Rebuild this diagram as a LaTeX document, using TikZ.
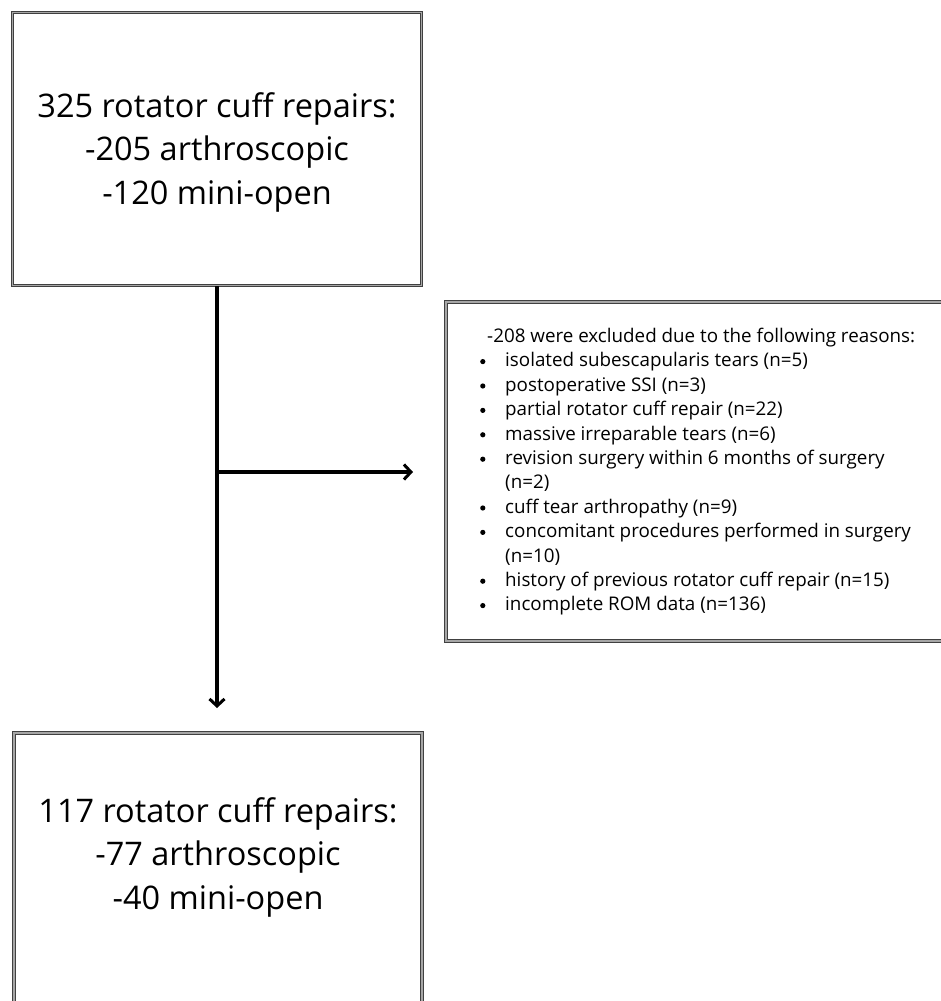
\documentclass[tikz,border=0pt]{standalone}
\usepackage{fontspec}
\setmainfont{Open Sans}[Ligatures=NoCommon]
\usetikzlibrary{arrows.meta}
\newcommand{\blt}{\makebox[28pt][l]{\hspace*{3pt}\raisebox{2.8pt}{\tikz\fill[black] (0pt,0pt) circle[radius=2.6pt];}}}
\begin{document}
\begin{tikzpicture}[x=1pt,y=-1pt,
  dbox/.style={draw=black!75, double=black!35, line width=1.1pt, double distance=1.2pt, rectangle, inner sep=0pt},
  bigtext/.style={font=\fontsize{32.5}{43.5}\selectfont, align=center},
  smalltext/.style={font=\fontsize{18.8}{24.4}\selectfont, align=left, inner sep=0pt},
  conn/.style={line width=3.5pt, -{Straight Barb[length=7pt,width=15pt,line width=3pt]}}
]
\clip (0,0) rectangle (941,1001);
\fill[white] (0,0) rectangle (941,1001);
% top box
\node[dbox, minimum width=409pt, minimum height=273pt] (top) at (217,149) {};
\node[bigtext] (toptext) at (217,152) {325 rotator cuff repairs:\\-205 arthroscopic\\-120 mini-open};
% exclusion box
\node[dbox, minimum width=520pt, minimum height=339pt] (excl) at (706,471.5) {};
\node[smalltext, anchor=north west] (excltext) at (477,328) {%
\hspace*{10pt}-208 were excluded due to the following reasons:\\
\blt isolated subescapularis tears (n=5)\\
\blt postoperative SSI (n=3)\\
\blt partial rotator cuff repair (n=22)\\
\blt massive irreparable tears (n=6)\\
\blt revision surgery within 6 months of surgery\\
\makebox[28pt][l]{}(n=2)\\
\blt cuff tear arthropathy (n=9)\\
\blt concomitant procedures performed in surgery\\
\makebox[28pt][l]{}(n=10)\\
\blt history of previous rotator cuff repair (n=15)\\
\blt incomplete ROM data (n=136)};
% bottom box
\node[dbox, minimum width=408pt, minimum height=300pt] (bot) at (218,883) {};
\node[bigtext] (bottext) at (218,857) {117 rotator cuff repairs:\\-77 arthroscopic\\-40 mini-open};
% connectors
\coordinate (tip) at (217,708);
\coordinate (branch) at (218,472);
\coordinate (htip) at (413,472);
\draw[conn] (top.south -| tip) -- (tip);
\draw[conn] (branch) -- (htip);
\end{tikzpicture}
\end{document}
